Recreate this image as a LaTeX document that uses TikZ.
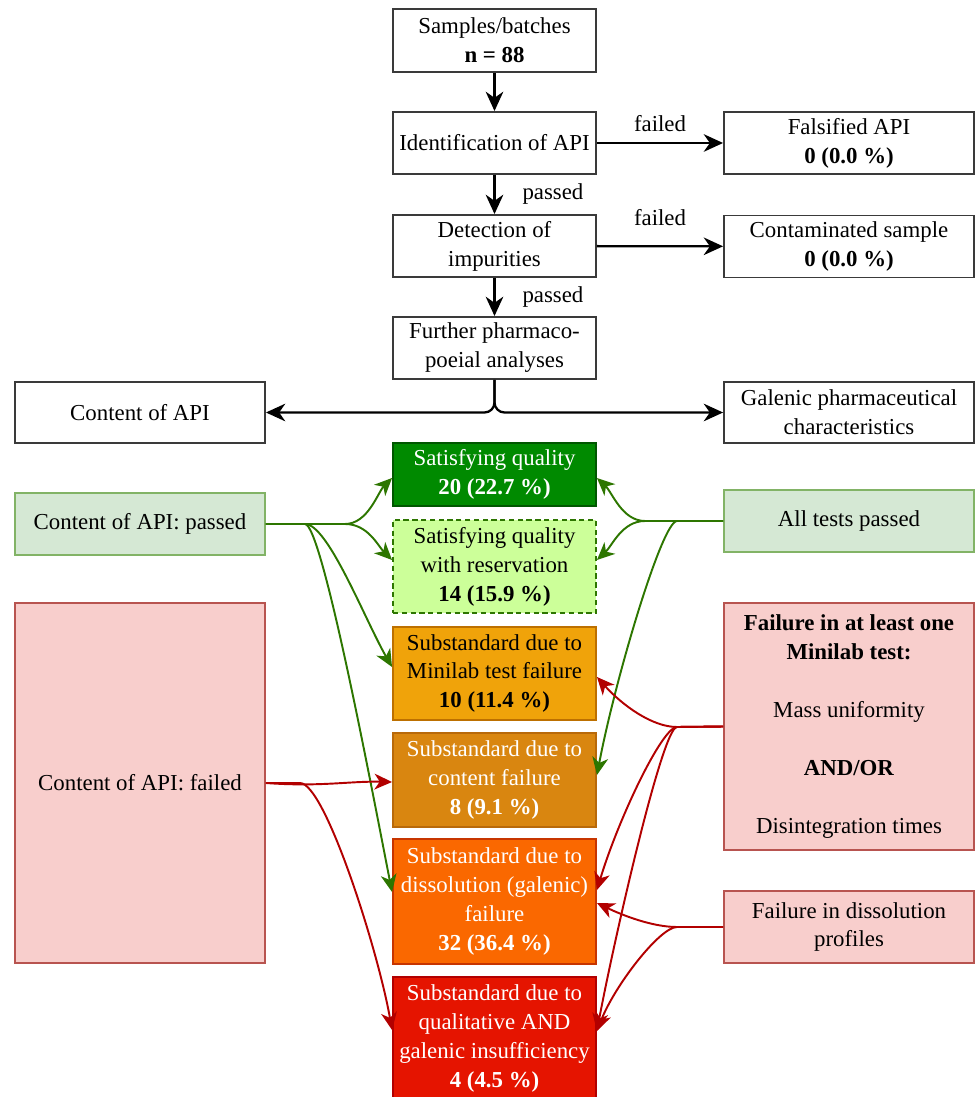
\documentclass[tikz,border=0pt]{standalone}
\usepackage{fontspec}
\setmainfont{Liberation Serif}
\usetikzlibrary{arrows.meta, positioning}

\definecolor{boxgray}{HTML}{3A3A3A}
\definecolor{goodfill}{HTML}{008A00}
\definecolor{gooddraw}{HTML}{005700}
\definecolor{reservefill}{HTML}{CCFF99}
\definecolor{reservedraw}{HTML}{2D7600}
\definecolor{minilabfill}{HTML}{F0A30A}
\definecolor{minilabdraw}{HTML}{BD7000}
\definecolor{contentfill}{HTML}{D98610}
\definecolor{contentdraw}{HTML}{B8690A}
\definecolor{dissolfill}{HTML}{FA6800}
\definecolor{dissoldraw}{HTML}{C73500}
\definecolor{bothfill}{HTML}{E51400}
\definecolor{bothdraw}{HTML}{B20000}
\definecolor{pinkfill}{HTML}{F8CECC}
\definecolor{pinkdraw}{HTML}{B85450}
\definecolor{mintfill}{HTML}{D5E8D4}
\definecolor{mintdraw}{HTML}{82B366}
\definecolor{passline}{HTML}{2D7600}
\definecolor{failline}{HTML}{B20000}

\begin{document}
\begin{tikzpicture}[x=0.02cm, y=-0.02cm,
    every node/.style={font=\fontsize{13pt}{16.5pt}\selectfont, align=center},
    box/.style={draw=boxgray, line width=1.1pt, fill=white, inner sep=2pt},
    mid/.style={minimum width=4.06cm},
    side/.style={minimum width=5cm},
    goodbox/.style={box, mid, draw=gooddraw, fill=goodfill, text=white},
    reservebox/.style={box, mid, draw=reservedraw, fill=reservefill, dash pattern=on 3pt off 2pt},
    minilabbox/.style={box, mid, draw=minilabdraw, fill=minilabfill},
    contentbox/.style={box, mid, draw=contentdraw, fill=contentfill, text=white},
    dissolbox/.style={box, mid, draw=dissoldraw, fill=dissolfill, text=white},
    bothbox/.style={box, mid, draw=bothdraw, fill=bothfill, text=white},
    passbox/.style={box, side, draw=mintdraw, fill=mintfill},
    failbox/.style={box, side, draw=pinkdraw, fill=pinkfill},
    flow/.style={draw=black, line width=1.3pt, -{Stealth[length=11pt, width=10pt, inset=3.5pt]}},
    passflow/.style={draw=passline, line width=1.1pt, -{Stealth[length=10pt, width=9pt, inset=3pt]}},
    failflow/.style={draw=failline, line width=1.1pt, -{Stealth[length=10pt, width=9pt, inset=3pt]}}
  ]
  \useasboundingbox (0,0) rectangle (975,1097);

  \node[box, mid, minimum height=1.26cm] (samples) at (494.5,40.5) {Samples/batches\\\textbf{n = 88}};
  \node[box, mid, minimum height=1.24cm] (ident) at (494.5,143) {Identification of API};
  \node[box, side, minimum height=1.24cm] (falsified) at (849,143) {Falsified API\\\textbf{0 (0.0 \%)}};
  \node[box, mid, minimum height=1.24cm] (detect) at (494.5,246) {Detection of\\impurities};
  \node[box, side, minimum height=1.24cm] (contam) at (849,246.5) {Contaminated sample\\\textbf{0 (0.0 \%)}};
  \node[box, mid, minimum height=1.24cm] (further) at (494.5,348) {Further pharmaco-\\poeial analyses};
  \node[box, side, minimum height=1.22cm] (content) at (140,412.5) {Content of API};
  \node[box, side, minimum height=1.22cm] (galenic) at (849,412.5) {Galenic pharmaceutical\\characteristics};

  \node[goodbox, minimum height=1.26cm] (satq) at (494.5,474.5) {Satisfying quality\\\textbf{20 (22.7 \%)}};
  \node[reservebox, minimum height=1.86cm] (satres) at (494.5,566.5) {Satisfying quality\\with reservation\\\textbf{14 (15.9 \%)}};
  \node[minilabbox, minimum height=1.86cm] (minilab) at (494.5,673.5) {Substandard due to\\Minilab test failure\\\textbf{10 (11.4 \%)}};
  \node[contentbox, minimum height=1.88cm] (contentfail) at (494.5,780) {Substandard due to\\content failure\\\textbf{8 (9.1 \%)}};
  \node[dissolbox, minimum height=2.5cm] (dissol) at (494.5,901.5) {Substandard due to\\dissolution (galenic)\\failure\\\textbf{32 (36.4 \%)}};
  \node[bothbox, minimum height=2.46cm] (qualgal) at (494.5,1038.5) {Substandard due to\\qualitative AND\\galenic insufficiency\\\textbf{4 (4.5 \%)}};

  \node[passbox, minimum height=1.24cm] (cpassed) at (140,524) {Content of API: passed};
  \node[passbox, minimum height=1.24cm] (allpassed) at (849,521) {All tests passed};
  \node[failbox, minimum height=7.2cm] (cfailed) at (140,783) {Content of API: failed};
  \node[failbox, minimum height=4.94cm] (failone) at (849,726.5) {\textbf{Failure in at least one}\\\textbf{Minilab test:}\\[16.5pt]Mass uniformity\\[16.5pt]\textbf{AND/OR}\\[16.5pt]Disintegration times};
  \node[failbox, minimum height=1.44cm] (dissprof) at (849,927) {Failure in dissolution\\profiles};

  \draw[flow] (samples) -- (ident);
  \draw[flow] (ident) -- node[above=0.09cm]{failed} (falsified);
  \draw[flow] (ident) -- node[right=0.42cm]{passed} (detect);
  \draw[flow] (detect) -- node[above=0.27cm]{failed} (contam);
  \draw[flow] (detect) -- node[right=0.42cm]{passed} (further);
  \draw[flow, rounded corners=0.2cm] (further.south) |- (content.east);
  \draw[flow, rounded corners=0.2cm] (further.south) |- (galenic.west);

  \draw[passflow] (cpassed.east) -- (345,524) .. controls (368,524) and (378,492) .. ([yshift=-0.07cm]satq.west);
  \draw[passflow] (cpassed.east) -- (345,524) .. controls (368,524) and (378,546) .. ([yshift=0.13cm]satres.west);
  \draw[passflow] (cpassed.east) -- (305,524) .. controls (328,524) and (365,620) .. ([yshift=0.13cm]minilab.west);
  \draw[passflow] (cpassed.east) -- (305,524) .. controls (322,524) and (372,790) .. ([yshift=0.19cm]dissol.west);
  \draw[passflow] (allpassed.west) -- (645,521) .. controls (622,521) and (612,492) .. ([yshift=-0.07cm]satq.east);
  \draw[passflow] (allpassed.west) -- (645,521) .. controls (622,521) and (612,546) .. ([yshift=0.13cm]satres.east);
  \draw[passflow] (allpassed.west) -- (677,521) .. controls (662,521) and (615,680) .. ([yshift=0.1cm]contentfail.east);

  \draw[failflow] (cfailed.east) .. controls (320,787) and (350,781) .. ([yshift=-0.04cm]contentfail.west);
  \draw[failflow] (cfailed.east) -- (300,783) .. controls (325,783) and (378,950) .. ([yshift=0.17cm]qualgal.west);
  \draw[failflow] (failone.west) -- (677,727) .. controls (652,727) and (622,705) .. ([yshift=-0.07cm]minilab.east);
  \draw[failflow] (failone.west) -- (677,727) .. controls (662,727) and (618,820) .. ([yshift=0.23cm]dissol.east);
  \draw[failflow] (failone.west) -- (677,727) .. controls (662,727) and (612,950) .. ([yshift=0.15cm]qualgal.east);
  \draw[failflow] (dissprof.west) -- (677,927) .. controls (652,927) and (622,915) .. ([yshift=-0.03cm]dissol.east);
  \draw[failflow] (dissprof.west) -- (677,927) .. controls (660,927) and (615,985) .. ([yshift=0.15cm]qualgal.east);
\end{tikzpicture}
\end{document}
